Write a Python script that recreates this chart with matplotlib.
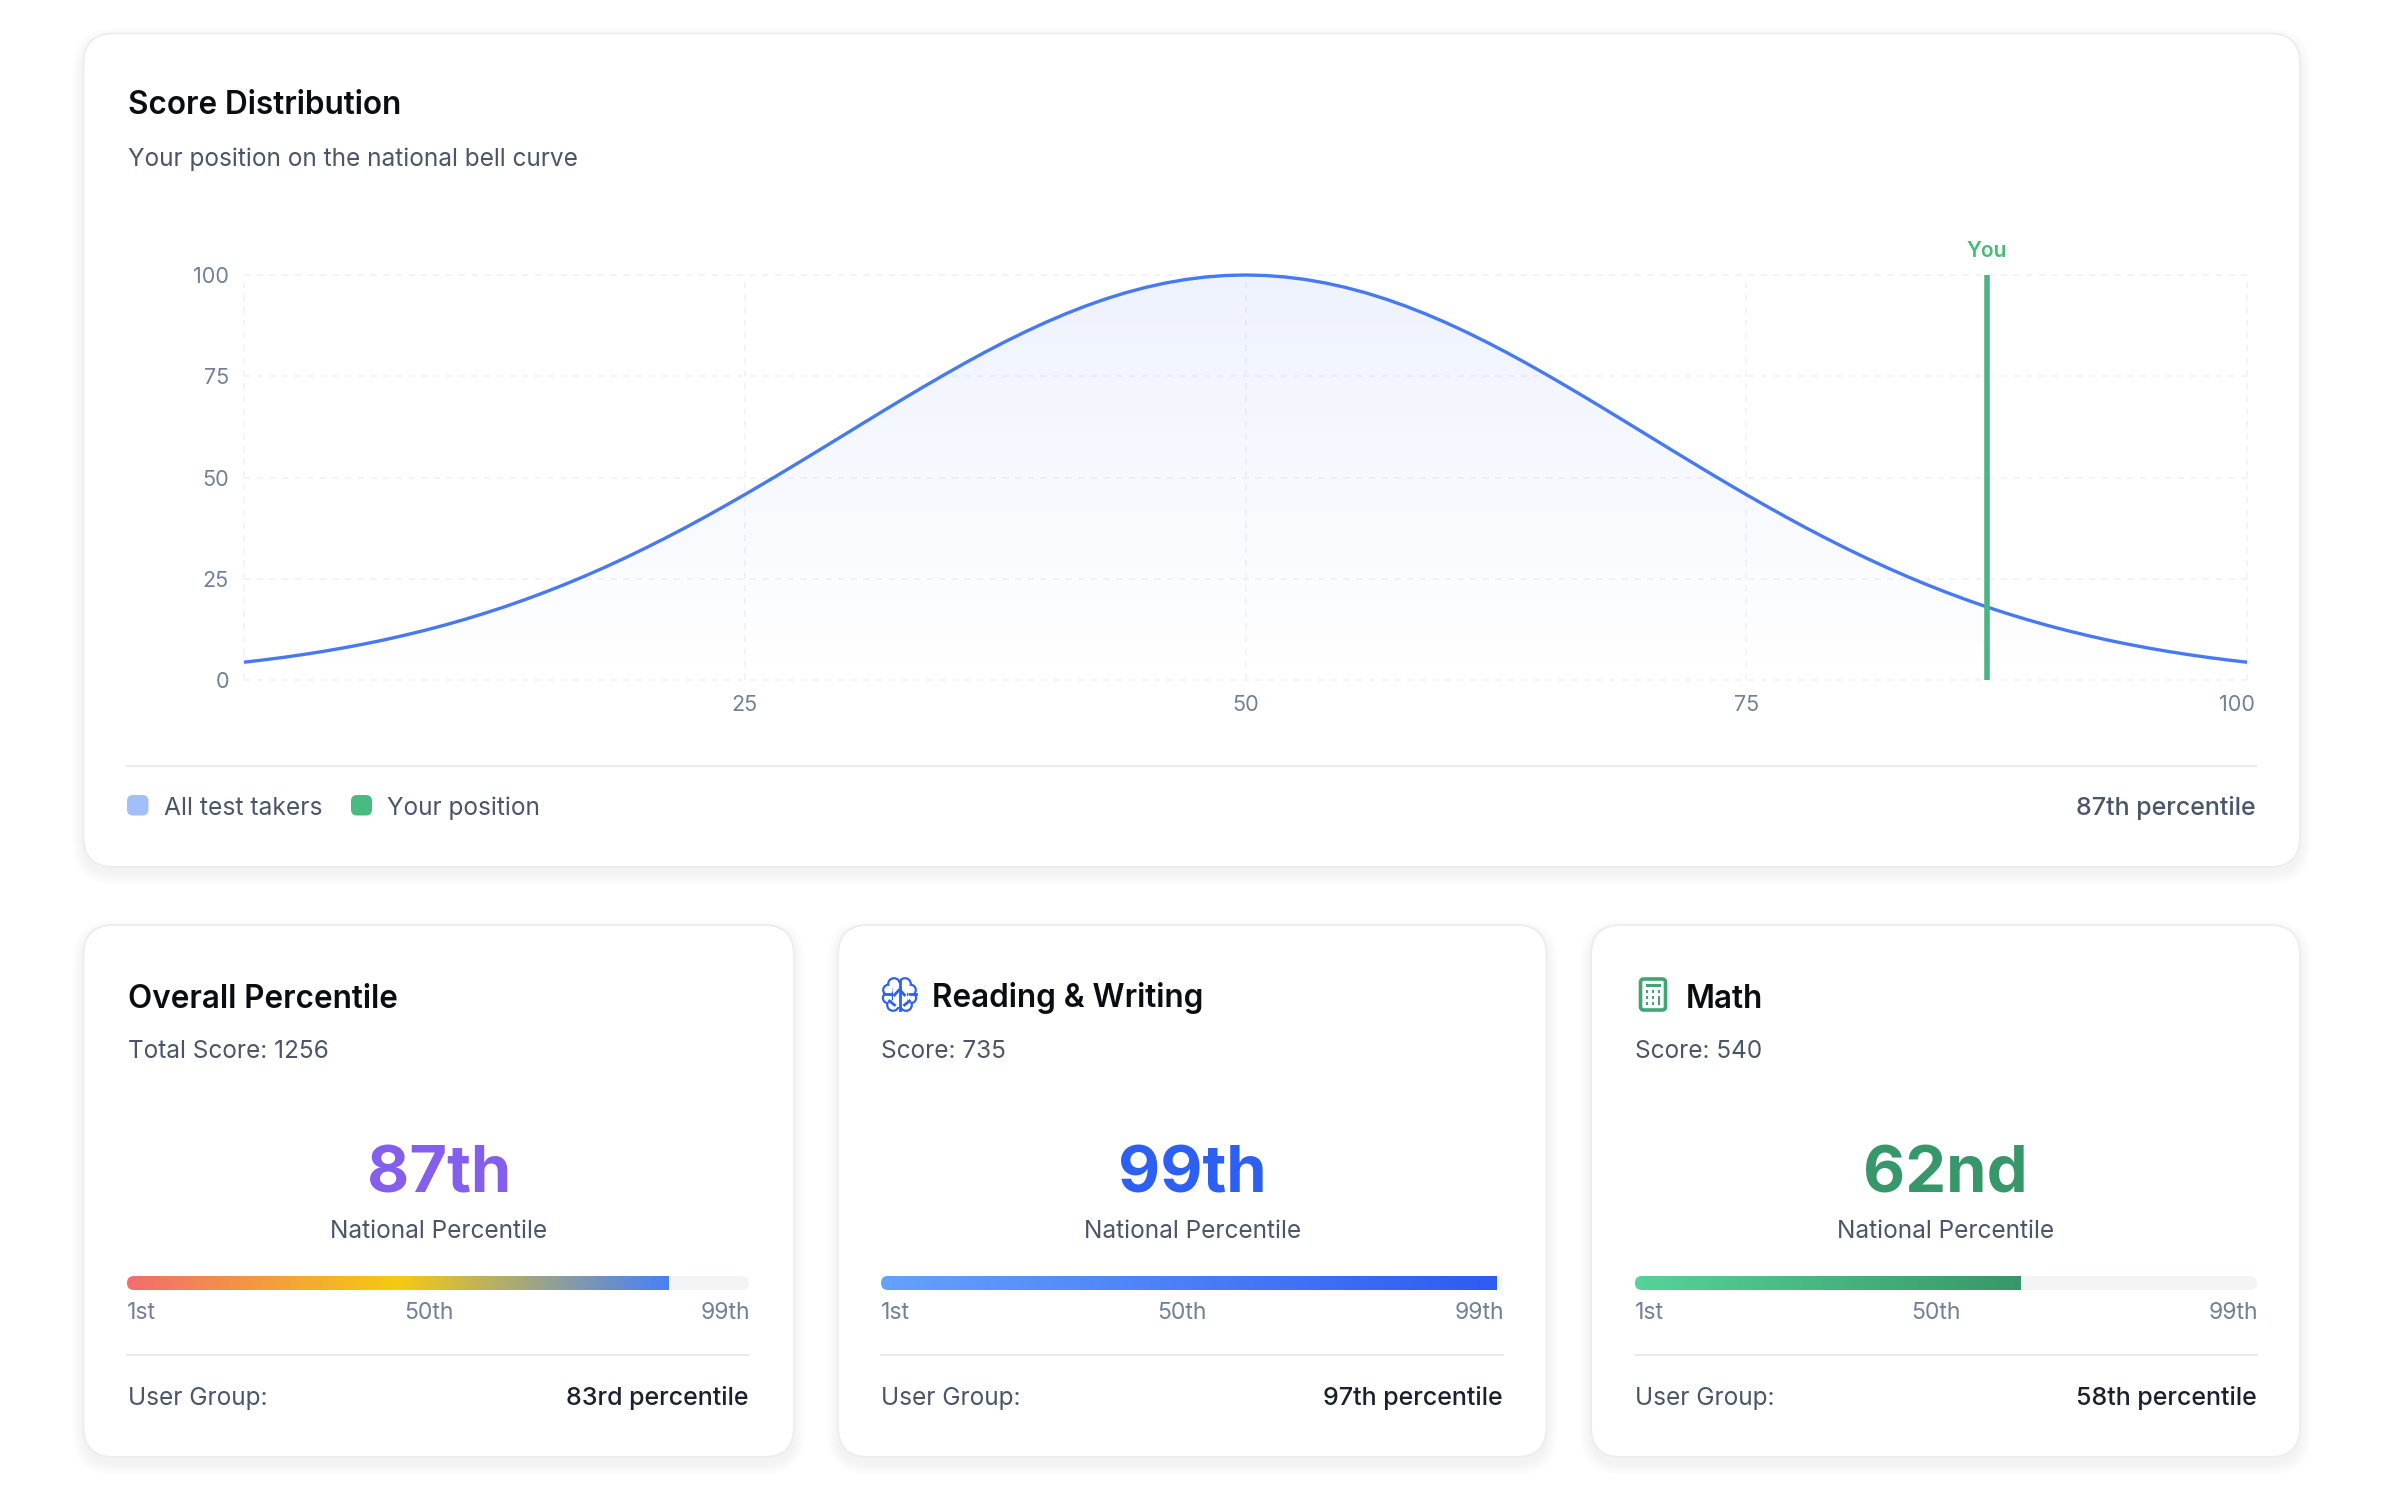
import numpy as np
import matplotlib
matplotlib.use("Agg")
import matplotlib.pyplot as plt
from matplotlib.colors import LinearSegmentedColormap
from matplotlib.patches import FancyBboxPatch, Circle, Rectangle
from matplotlib.transforms import ScaledTranslation

plt.rcParams['font.family'] = ['Inter', 'DejaVu Sans']

W, H = 2386, 1494

# bell curve, read at every point on the score axis
curve_x = list(range(101))
curve_y = [4.39, 4.97, 5.61, 6.32, 7.10, 7.96, 8.89, 9.91, 11.03, 12.23, 13.53, 14.94, 16.45, 18.06, 19.79, 21.63,
           23.57, 25.63, 27.80, 30.08, 32.47, 34.95, 37.53, 40.20, 42.96, 45.78, 48.68, 51.62, 54.61, 57.62, 60.65,
           63.68, 66.70, 69.68, 72.61, 75.48, 78.27, 80.96, 83.53, 85.96, 88.25, 90.37, 92.31, 94.06, 95.60, 96.92,
           98.02, 98.88, 99.50, 99.88, 100.00, 99.88, 99.50, 98.88, 98.02, 96.92, 95.60, 94.06, 92.31, 90.37, 88.25,
           85.96, 83.53, 80.96, 78.27, 75.48, 72.61, 69.68, 66.70, 63.68, 60.65, 57.62, 54.61, 51.62, 48.68, 45.78,
           42.96, 40.20, 37.53, 34.95, 32.47, 30.08, 27.80, 25.63, 23.57, 21.63, 19.79, 18.06, 16.45, 14.94, 13.53,
           12.23, 11.03, 9.91, 8.89, 7.96, 7.10, 6.32, 5.61, 4.97, 4.39]
you_position = 87
ticks = [0, 25, 50, 75, 100]
x_tick_labels = ['', '25', '50', '75', '100']

card_titles = ['Overall Percentile', 'Reading & Writing', 'Math']
card_scores = ['Total Score: 1256', 'Score: 735', 'Score: 540']
card_big = ['87th', '99th', '62nd']
card_pct = [87, 99, 62]
card_group = ['83rd percentile', '97th percentile', '58th percentile']
scale_labels = ['1st', '50th', '99th']

big_colors = ['#845FEE', '#2E5FF3', '#38976A']
bar_colors = [['#F26D6D', '#F6CA10', '#4880F7'], ['#65A2FE', '#2E5BF0'], ['#56D39A', '#38976A']]
card_left = [83.5, 838, 1591]
card_right = [794, 1546.5, 2300]
text_left = [127, 881, 1635]
text_right = [749, 1503, 2257]
title_left = [128, 932, 1686]
mid_label_x = [429, 1182, 1936]

NAVY = '#4A5568'
MUTED = '#718096'
RULE = '#E7E8EF'


def px(size):
    return size * 0.72


fig = plt.figure(figsize=(W / 100, H / 100), dpi=100, facecolor='white')
page = fig.add_axes([0, 0, 1, 1], zorder=0)
page.set_xlim(0, W)
page.set_ylim(H, 0)
page.axis('off')
page.set_autoscale_on(False)


def txt(x, y, s, size, color=NAVY, ha='left', weight='normal'):
    page.text(x, y, s, fontsize=px(size), color=color, ha=ha, va='baseline', fontweight=weight, zorder=6)


def rbox(x0, y0, x1, y1, r, **kw):
    p = FancyBboxPatch((x0, y0), x1 - x0, y1 - y0, boxstyle=f"round,pad=0,rounding_size={r}", **kw)
    page.add_patch(p)
    return p


def card(x0, y0, x1, y1, strength):
    # soft shadow from stacked translucent boxes
    for i in range(12):
        g = 1.0 * (12 - i)
        rbox(x0 - g, y0 - g + 6, x1 + g, y1 + g + 6, 30 + g, fc='black', ec='none', alpha=strength, zorder=1)
    rbox(x0, y0, x1, y1, 30, fc='white', ec='#ECEDF0', lw=1.4, zorder=2)


# top card
card(83.5, 33.5, 2300, 867, 0.005)
txt(128, 113.5, 'Score Distribution', 31.5, '#0B0D12', weight='semibold')
txt(128, 166, 'Your position on the national bell curve', 24.4)

page.plot([127, 2256], [765.7, 765.7], color=RULE, lw=1.3, zorder=3)
rbox(127, 795, 148.5, 815.5, 6, fc='#A3BFFA', ec='none', zorder=3)
txt(164, 815, 'All test takers', 24.6)
rbox(351, 795, 372, 815.5, 6, fc='#48BB80', ec='none', zorder=3)
txt(387, 815, 'Your position', 24.4)
txt(2256, 815, '87th percentile', 25, ha='right', weight='medium')

# bell curve chart
ax = fig.add_axes([244 / W, 1 - 680 / H, (2247 - 244) / W, (680 - 275) / H], zorder=1)
ax.patch.set_alpha(0)
ax.set_xlim(0, 100)
ax.set_ylim(0, 100)
for s in ax.spines.values():
    s.set_visible(False)
ax.set_xticks(ticks)
ax.set_yticks(ticks)
ax.set_xticklabels(x_tick_labels)
ax.tick_params(length=0, labelsize=px(21.6), labelcolor=MUTED)
ax.tick_params(axis='y', pad=px(15))
ax.tick_params(axis='x', pad=px(15))
ax.grid(True, color='#F0F3F9', lw=1.3, ls=(0, (3.5, 3.5)), clip_on=False)
ax.set_axisbelow(True)

# the last x label sits inside the plot edge
ax.get_xticklabels()[-1].set_transform(ax.get_xticklabels()[-1].get_transform()
                                       + ScaledTranslation(-10 / 100, 0, fig.dpi_scale_trans))

under = ax.fill_between(curve_x, 0, curve_y, color='none')
grad = np.zeros((256, 1, 4))
grad[..., 0] = 0.23
grad[..., 1] = 0.42
grad[..., 2] = 0.93
grad[..., 3] = np.linspace(0.085, 0, 256)[:, None]
im = ax.imshow(grad, extent=(0, 100, 0, 100), aspect='auto', origin='upper', zorder=1)
im.set_clip_path(under.get_paths()[0], transform=ax.transData)
ax.set_xlim(0, 100)
ax.set_ylim(0, 100)

ax.plot(curve_x, curve_y, color='#4679F2', lw=2.4, zorder=3, solid_capstyle='butt', snap=False, clip_on=False)
ax.plot([you_position, you_position], [0, 100], color='#4AB580', lw=4, solid_capstyle='butt', zorder=4)
ax.annotate('You', (you_position, 100), xytext=(0, px(18)), textcoords='offset points', ha='center', va='baseline',
            fontsize=px(21), color='#48BB78', fontweight='semibold')


# icons
def brain_icon(x, y, c):
    # x, y is the top left of a 33px box
    lobes = [(11.0, 6.0, 5.5), (5.5, 12.0, 5.0), (5.0, 20.0, 4.8), (10.0, 27.0, 5.5)]
    for sign in (-1, 1):
        for cx, cy, r in lobes:
            page.add_patch(Circle((x + 16.5 + sign * (16.5 - cx), y + cy), r, fc='none', ec=c, lw=2.0, zorder=4))
    for sign in (-1, 1):
        for cx, cy, r in lobes:
            page.add_patch(Circle((x + 16.5 + sign * (16.5 - cx), y + cy), r - 0.8, fc='white', ec='none', zorder=4))
        page.add_patch(Rectangle((x + 16.5 + sign * 2 - 5, y + 5), 10, 24, fc='white', ec='none', zorder=4))
    page.plot([x + 16.5, x + 16.5], [y + 3, y + 32], color=c, lw=2.0, zorder=5)
    page.plot([x + 11.5, x + 16.5, x + 21.5], [y + 17, y + 11.5, y + 17], color=c, lw=2.0, zorder=5)
    for sign in (-1, 1):
        page.plot([x + 16.5 + sign * 16, x + 16.5 + sign * 10], [y + 16, y + 16], color=c, lw=2.0, zorder=5)
        page.plot([x + 16.5 + sign * 5, x + 16.5 + sign * 10], [y + 27, y + 23], color=c, lw=2.0, zorder=5)


def calc_icon(x, y, c):
    # x, y is the top left of a 27x33 box
    rbox(x + 1, y + 1, x + 26, y + 32, 3.5, fc='white', ec=c, lw=2.6, zorder=4)
    page.add_patch(Rectangle((x + 6, y + 6), 15, 2.6, fc=c, ec='none', zorder=5))
    for row in (13, 19, 25):
        for col in (7, 13, 19):
            if col == 19 and row > 13:
                continue
            page.add_patch(Rectangle((x + col - 1, y + row - 1), 2.6, 2.6, fc=c, ec='none', zorder=5))
    page.add_patch(Rectangle((x + 18, y + 18), 2.6, 9, fc=c, ec='none', zorder=5))


# lower cards
for i in range(3):
    card(card_left[i], 925, card_right[i], 1457, 0.004)
    l, r = text_left[i], text_right[i]
    center = (card_left[i] + card_right[i]) / 2
    txt(title_left[i], 1007.5, card_titles[i], 31.5, '#0B0D12', weight='semibold')
    txt(l + (1 if i == 0 else 0), 1058, card_scores[i], 24.4)
    txt(center, 1192.5, card_big[i], 65, big_colors[i], ha='center', weight='bold')
    txt(center, 1238, 'National Percentile', 24.4, ha='center')

    track = rbox(l, 1276, r, 1290, 7, fc='#F3F4F6', ec='none', zorder=3)
    end = l + (r - l) * card_pct[i] / 100
    cmap = LinearSegmentedColormap.from_list('bar%d' % i, bar_colors[i])
    bar = page.imshow(np.linspace(0, 1, 256)[None, :], cmap=cmap, extent=(l, end, 1290, 1276), aspect='auto', zorder=4)
    bar.set_clip_path(track)
    page.set_xlim(0, W)
    page.set_ylim(H, 0)

    txt(l, 1319, scale_labels[0], 23, MUTED)
    txt(mid_label_x[i], 1319, scale_labels[1], 23, MUTED, ha='center')
    txt(r + 1, 1319, scale_labels[2], 23, MUTED, ha='right')

    page.plot([l, r], [1355.4, 1355.4], color=RULE, lw=1.3, zorder=3)
    txt(l + (1 if i == 0 else 0), 1404.5, 'User Group:', 24.4)
    txt(r, 1404.5, card_group[i], 25, '#1A202C', ha='right', weight='medium')

brain_icon(883, 978, '#2E5FF3')
calc_icon(1639.5, 978, '#3FA574')

fig.savefig('out.png', dpi=100, facecolor='white')
